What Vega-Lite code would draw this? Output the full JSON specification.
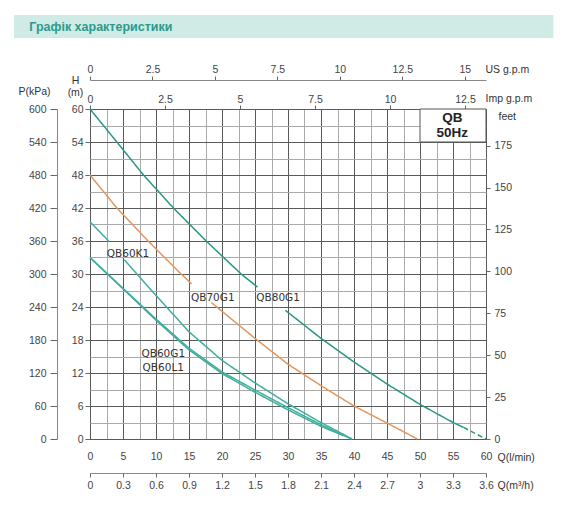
{
  "$schema": "https://vega.github.io/schema/vega-lite/v6.json",
  "padding": {"left": 14, "top": 14, "right": 0, "bottom": 0},
  "width": 396,
  "height": 330,
  "config": {
    "view": {"stroke": "#555", "strokeWidth": 1},
    "axis": {
      "labelFont": "Liberation Sans", "labelFontSize": 10.5, "labelColor": "#444",
      "titleFont": "Liberation Sans", "titleFontSize": 10.5, "titleFontWeight": "normal", "titleColor": "#333",
      "tickColor": "#666", "domainColor": "#888", "labelFlush": false, "labelOverlap": false
    }
  },
  "datasets": {
    "curves": [
      {"series": "QB80G1", "seg": "a", "dash": "solid", "q": 0, "h": 60},
      {"series": "QB80G1", "seg": "a", "dash": "solid", "q": 4, "h": 54.1},
      {"series": "QB80G1", "seg": "a", "dash": "solid", "q": 8.1, "h": 48},
      {"series": "QB80G1", "seg": "a", "dash": "solid", "q": 12.8, "h": 41.8},
      {"series": "QB80G1", "seg": "a", "dash": "solid", "q": 17.6, "h": 36},
      {"series": "QB80G1", "seg": "a", "dash": "solid", "q": 22.9, "h": 30},
      {"series": "QB80G1", "seg": "a", "dash": "solid", "q": 25.4, "h": 27.6},
      {"series": "QB80G1", "seg": "b", "dash": "solid", "q": 29.6, "h": 23.4},
      {"series": "QB80G1", "seg": "b", "dash": "solid", "q": 35, "h": 18.3},
      {"series": "QB80G1", "seg": "b", "dash": "solid", "q": 40, "h": 14},
      {"series": "QB80G1", "seg": "b", "dash": "solid", "q": 45, "h": 10},
      {"series": "QB80G1", "seg": "b", "dash": "solid", "q": 50, "h": 6.3},
      {"series": "QB80G1", "seg": "b", "dash": "solid", "q": 55, "h": 3},
      {"series": "QB80G1", "seg": "b", "dash": "solid", "q": 56.6, "h": 2.1},
      {"series": "QB80G1", "seg": "c", "dash": "dashed", "q": 56.6, "h": 2.1},
      {"series": "QB80G1", "seg": "c", "dash": "dashed", "q": 60, "h": 0},
      {"series": "QB70G1", "seg": "a", "dash": "solid", "q": 0, "h": 48},
      {"series": "QB70G1", "seg": "a", "dash": "solid", "q": 4, "h": 42.1},
      {"series": "QB70G1", "seg": "a", "dash": "solid", "q": 8.8, "h": 36},
      {"series": "QB70G1", "seg": "a", "dash": "solid", "q": 13.8, "h": 30},
      {"series": "QB70G1", "seg": "a", "dash": "solid", "q": 15.4, "h": 28.2},
      {"series": "QB70G1", "seg": "b", "dash": "solid", "q": 18.4, "h": 24.8},
      {"series": "QB70G1", "seg": "b", "dash": "solid", "q": 25, "h": 18.3},
      {"series": "QB70G1", "seg": "b", "dash": "solid", "q": 30, "h": 13.6},
      {"series": "QB70G1", "seg": "b", "dash": "solid", "q": 35, "h": 9.7},
      {"series": "QB70G1", "seg": "b", "dash": "solid", "q": 40, "h": 6},
      {"series": "QB70G1", "seg": "b", "dash": "solid", "q": 45, "h": 2.9},
      {"series": "QB70G1", "seg": "b", "dash": "solid", "q": 49.6, "h": 0},
      {"series": "QB60K1", "seg": "a", "dash": "solid", "q": 0, "h": 39.5},
      {"series": "QB60K1", "seg": "a", "dash": "solid", "q": 2.9, "h": 35.9},
      {"series": "QB60K1", "seg": "b", "dash": "solid", "q": 5.2, "h": 32.6},
      {"series": "QB60K1", "seg": "b", "dash": "solid", "q": 10, "h": 26.1},
      {"series": "QB60K1", "seg": "b", "dash": "solid", "q": 15, "h": 19.5},
      {"series": "QB60K1", "seg": "b", "dash": "solid", "q": 20, "h": 14.3},
      {"series": "QB60K1", "seg": "b", "dash": "solid", "q": 25, "h": 10.2},
      {"series": "QB60K1", "seg": "b", "dash": "solid", "q": 30, "h": 6.4},
      {"series": "QB60K1", "seg": "b", "dash": "solid", "q": 35, "h": 3},
      {"series": "QB60K1", "seg": "b", "dash": "solid", "q": 39.7, "h": 0},
      {"series": "QB60G1", "seg": "a", "dash": "solid", "q": 0, "h": 33},
      {"series": "QB60G1", "seg": "a", "dash": "solid", "q": 5, "h": 27.4},
      {"series": "QB60G1", "seg": "a", "dash": "solid", "q": 10, "h": 21.8},
      {"series": "QB60G1", "seg": "a", "dash": "solid", "q": 15, "h": 16.5},
      {"series": "QB60G1", "seg": "a", "dash": "solid", "q": 20, "h": 12.2},
      {"series": "QB60G1", "seg": "a", "dash": "solid", "q": 25, "h": 8.9},
      {"series": "QB60G1", "seg": "a", "dash": "solid", "q": 30, "h": 5.7},
      {"series": "QB60G1", "seg": "a", "dash": "solid", "q": 35, "h": 2.6},
      {"series": "QB60G1", "seg": "a", "dash": "solid", "q": 39.6, "h": 0},
      {"series": "QB60L1", "seg": "a", "dash": "solid", "q": 0, "h": 33},
      {"series": "QB60L1", "seg": "a", "dash": "solid", "q": 5, "h": 27.3},
      {"series": "QB60L1", "seg": "a", "dash": "solid", "q": 10, "h": 21.6},
      {"series": "QB60L1", "seg": "a", "dash": "solid", "q": 15, "h": 16.2},
      {"series": "QB60L1", "seg": "a", "dash": "solid", "q": 20, "h": 11.9},
      {"series": "QB60L1", "seg": "a", "dash": "solid", "q": 25, "h": 8.5},
      {"series": "QB60L1", "seg": "a", "dash": "solid", "q": 30, "h": 5.3},
      {"series": "QB60L1", "seg": "a", "dash": "solid", "q": 35, "h": 2.3},
      {"series": "QB60L1", "seg": "a", "dash": "solid", "q": 38.4, "h": 0.6}
    ],
    "labels": [
      {"label": "QB60K1", "q": 5.75, "h": 33.6},
      {"label": "QB70G1", "q": 18.6, "h": 25.6},
      {"label": "QB80G1", "q": 28.5, "h": 25.6},
      {"label": "QB60G1", "q": 11.1, "h": 15.4},
      {"label": "QB60L1", "q": 11.1, "h": 12.9}
    ],
    "box": [{"q1": 50, "q2": 60, "h1": 54, "h2": 60}],
    "boxText": [
      {"label": "QB", "q": 54.9, "h": 58.3},
      {"label": "50Hz", "q": 54.9, "h": 55.7}
    ],
    "header": [{"label": "Графік характеристики", "q1": -11.5, "q2": 70.2, "h1": 72.9, "h2": 77.1, "qt": -9.2, "ht": 75}]
  },
  "resolve": {
    "scale": {"x": "independent", "y": "independent"},
    "axis": {"x": "independent", "y": "independent"}
  },
  "layer": [
    {
      "data": {"name": "header"},
      "mark": {"type": "rect", "fill": "#d0eae5"},
      "encoding": {
        "x": {"field": "q1", "type": "quantitative", "scale": {"domain": [0, 60], "nice": false, "zero": false}, "axis": null},
        "x2": {"field": "q2"},
        "y": {"field": "h1", "type": "quantitative", "scale": {"domain": [0, 60], "nice": false, "zero": false}, "axis": null},
        "y2": {"field": "h2"}
      }
    },
    {
      "data": {"name": "header"},
      "mark": {"type": "text", "align": "left", "baseline": "middle", "font": "Liberation Sans", "fontSize": 12.5, "fontWeight": "bold", "color": "#2c9a8b"},
      "encoding": {
        "x": {"field": "qt", "type": "quantitative", "scale": {"domain": [0, 60], "nice": false, "zero": false}, "axis": null},
        "y": {"field": "ht", "type": "quantitative", "scale": {"domain": [0, 60], "nice": false, "zero": false}, "axis": null},
        "text": {"field": "label"}
      }
    },
    {
      "data": {"name": "curves"},
      "mark": {"type": "line", "strokeWidth": 1.5},
      "encoding": {
        "x": {
          "field": "q", "type": "quantitative",
          "scale": {"domain": [0, 60], "nice": false, "zero": false},
          "axis": {
            "orient": "bottom", "values": [0, 2.5, 5, 7.5, 10, 12.5, 15, 17.5, 20, 22.5, 25, 27.5, 30, 32.5, 35, 37.5, 40, 42.5, 45, 47.5, 50, 52.5, 55, 57.5, 60],
            "labelExpr": "datum.value % 5 === 0 ? '' + datum.value : ''",
            "grid": true,
            "gridColor": {"condition": {"test": "datum.value % 5 === 0", "value": "#5a5a5a"}, "value": "#aaaaaa"},
            "gridWidth": 1,
            "ticks": false, "domain": false, "labelPadding": 12,
            "title": "Q(l/min)", "titleAngle": 0, "titleX": 407, "titleY": 18,
            "titleAlign": "left", "titleBaseline": "middle"
          }
        },
        "y": {
          "field": "h", "type": "quantitative",
          "scale": {"domain": [0, 60], "nice": false, "zero": false},
          "axis": {
            "orient": "left", "values": [0, 3, 6, 9, 12, 15, 18, 21, 24, 27, 30, 33, 36, 39, 42, 45, 48, 51, 54, 57, 60],
            "labelExpr": "datum.value % 6 === 0 ? '' + datum.value : ''",
            "grid": true,
            "gridColor": {"condition": {"test": "datum.value % 6 === 0", "value": "#5a5a5a"}, "value": "#aaaaaa"},
            "tickOpacity": {"condition": {"test": "datum.value % 6 === 0", "value": 1}, "value": 0},
            "tickSize": 5, "labelPadding": 2, "domain": false,
            "title": ["H", "(m)"], "titleAngle": 0, "titleX": -15, "titleY": -26,
            "titleAlign": "center", "titleBaseline": "alphabetic", "titleLineHeight": 12
          }
        },
        "color": {
          "field": "series", "type": "nominal",
          "scale": {"domain": ["QB80G1", "QB70G1", "QB60K1", "QB60G1", "QB60L1"], "range": ["#2a9686", "#e2975f", "#3fae9e", "#3fae9e", "#3fae9e"]},
          "legend": null
        },
        "detail": {"field": "seg"},
        "strokeDash": {
          "field": "dash", "type": "nominal",
          "scale": {"domain": ["solid", "dashed"], "range": [[1, 0], [5, 3]]},
          "legend": null
        }
      }
    },
    {
      "data": {"name": "box"},
      "mark": {"type": "rect", "fill": "white", "stroke": "#555", "strokeWidth": 1},
      "encoding": {
        "x": {"field": "q1", "type": "quantitative", "scale": {"domain": [0, 60], "nice": false, "zero": false}, "axis": null},
        "x2": {"field": "q2"},
        "y": {"field": "h1", "type": "quantitative", "scale": {"domain": [0, 60], "nice": false, "zero": false}, "axis": null},
        "y2": {"field": "h2"}
      }
    },
    {
      "data": {"name": "boxText"},
      "mark": {"type": "text", "font": "Liberation Sans", "fontSize": 13.5, "fontWeight": "bold", "color": "#222"},
      "encoding": {
        "x": {"field": "q", "type": "quantitative", "scale": {"domain": [0, 60], "nice": false, "zero": false}, "axis": null},
        "y": {"field": "h", "type": "quantitative", "scale": {"domain": [0, 60], "nice": false, "zero": false}, "axis": null},
        "text": {"field": "label"}
      }
    },
    {
      "data": {"name": "labels"},
      "mark": {"type": "text", "font": "DejaVu Sans", "fontSize": 10.5, "color": "#333"},
      "encoding": {
        "x": {"field": "q", "type": "quantitative", "scale": {"domain": [0, 60], "nice": false, "zero": false}, "axis": null},
        "y": {"field": "h", "type": "quantitative", "scale": {"domain": [0, 60], "nice": false, "zero": false}, "axis": null},
        "text": {"field": "label"}
      }
    },
    {
      "data": {"name": "box"},
      "mark": {"type": "point", "opacity": 0},
      "encoding": {
        "x": {
          "datum": 0, "type": "quantitative",
          "scale": {"domain": [0, 15.85], "nice": false, "zero": false},
          "axis": {
            "orient": "top", "offset": 29, "values": [0, 2.5, 5, 7.5, 10, 12.5, 15], "labelExpr": "'' + datum.value",
            "tickSize": 4, "labelPadding": 2, "domain": true, "grid": false,
            "title": "US  g.p.m", "titleAngle": 0, "titleX": 395, "titleY": -11,
            "titleAlign": "left", "titleBaseline": "middle"
          }
        },
        "y": {"datum": 0, "type": "quantitative", "scale": {"domain": [0, 60], "nice": false, "zero": false}, "axis": null}
      }
    },
    {
      "data": {"name": "box"},
      "mark": {"type": "point", "opacity": 0},
      "encoding": {
        "x": {
          "datum": 0, "type": "quantitative",
          "scale": {"domain": [0, 13.2], "nice": false, "zero": false},
          "axis": {
            "orient": "top", "offset": 0, "values": [0, 2.5, 5, 7.5, 10, 12.5], "labelExpr": "'' + datum.value",
            "tickSize": 4, "labelPadding": 1, "domain": false, "grid": false,
            "title": "Imp  g.p.m", "titleAngle": 0, "titleX": 395, "titleY": -11,
            "titleAlign": "left", "titleBaseline": "middle"
          }
        },
        "y": {"datum": 0, "type": "quantitative", "scale": {"domain": [0, 60], "nice": false, "zero": false}, "axis": null}
      }
    },
    {
      "data": {"name": "box"},
      "mark": {"type": "point", "opacity": 0},
      "encoding": {
        "x": {
          "datum": 0, "type": "quantitative",
          "scale": {"domain": [0, 3.6], "nice": false, "zero": false},
          "axis": {
            "orient": "bottom", "offset": 34, "values": [0, 0.3, 0.6, 0.9, 1.2, 1.5, 1.8, 2.1, 2.4, 2.7, 3, 3.3, 3.6], "labelExpr": "'' + datum.value",
            "tickSize": 4, "labelPadding": 3, "domain": true, "grid": false,
            "title": "Q(m³/h)", "titleAngle": 0, "titleX": 407, "titleY": 12,
            "titleAlign": "left", "titleBaseline": "middle"
          }
        },
        "y": {"datum": 0, "type": "quantitative", "scale": {"domain": [0, 60], "nice": false, "zero": false}, "axis": null}
      }
    },
    {
      "data": {"name": "box"},
      "mark": {"type": "point", "opacity": 0},
      "encoding": {
        "x": {"datum": 0, "type": "quantitative", "scale": {"domain": [0, 60], "nice": false, "zero": false}, "axis": null},
        "y": {
          "datum": 0, "type": "quantitative",
          "scale": {"domain": [0, 196.85], "nice": false, "zero": false},
          "axis": {
            "orient": "right", "values": [0, 25, 50, 75, 100, 125, 150, 175],
            "tickSize": 4, "labelPadding": 4, "domain": false, "grid": false,
            "title": "feet", "titleAngle": 0, "titleX": 12, "titleY": 7,
            "titleAlign": "left", "titleBaseline": "middle"
          }
        }
      }
    },
    {
      "data": {"name": "box"},
      "mark": {"type": "point", "opacity": 0},
      "encoding": {
        "x": {"datum": 0, "type": "quantitative", "scale": {"domain": [0, 60], "nice": false, "zero": false}, "axis": null},
        "y": {
          "datum": 0, "type": "quantitative",
          "scale": {"domain": [0, 600], "nice": false, "zero": false},
          "axis": {
            "orient": "left", "offset": 33, "values": [0, 60, 120, 180, 240, 300, 360, 420, 480, 540, 600],
            "tickSize": 7, "labelPadding": 4, "domain": true, "grid": false,
            "title": "P(kPa)", "titleAngle": 0, "titleX": -23, "titleY": -18,
            "titleAlign": "center", "titleBaseline": "middle"
          }
        }
      }
    }
  ]
}
